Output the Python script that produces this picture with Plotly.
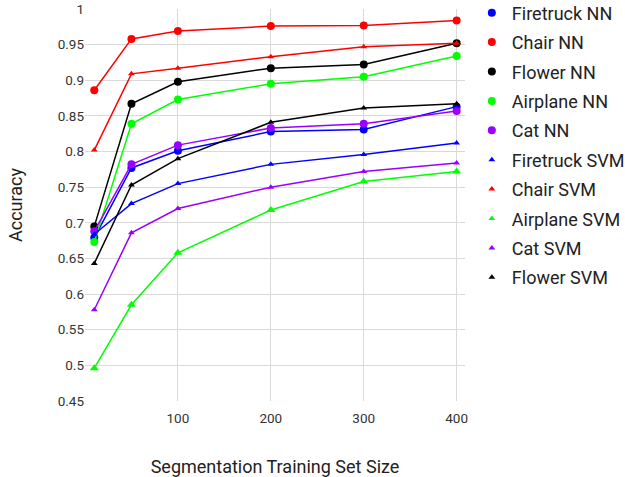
import plotly.graph_objects as go

x_sizes = [10, 50, 100, 200, 300, 400]

firetruck_nn = [0.679, 0.777, 0.801, 0.828, 0.831, 0.863]
chair_nn = [0.886, 0.958, 0.969, 0.976, 0.977, 0.984]
flower_nn = [0.695, 0.867, 0.898, 0.917, 0.922, 0.952]
airplane_nn = [0.673, 0.839, 0.873, 0.895, 0.905, 0.934]
cat_nn = [0.688, 0.782, 0.809, 0.833, 0.839, 0.857]
firetruck_svm = [0.684, 0.727, 0.755, 0.782, 0.796, 0.812]
chair_svm = [0.802, 0.909, 0.917, 0.933, 0.947, 0.952]
airplane_svm = [0.496, 0.585, 0.658, 0.718, 0.758, 0.772]
cat_svm = [0.578, 0.686, 0.720, 0.750, 0.772, 0.784]
flower_svm = [0.643, 0.753, 0.790, 0.841, 0.861, 0.867]

series = [
    ("Firetruck NN", firetruck_nn, "#0000ff", "circle", 8),
    ("Chair NN", chair_nn, "#ff0000", "circle", 8),
    ("Flower NN", flower_nn, "#000000", "circle", 8),
    ("Airplane NN", airplane_nn, "#00ff00", "circle", 8),
    ("Cat NN", cat_nn, "#9900ff", "circle", 8),
    ("Firetruck SVM", firetruck_svm, "#0000ff", "triangle-up", 6),
    ("Chair SVM", chair_svm, "#ff0000", "triangle-up", 6),
    ("Airplane SVM", airplane_svm, "#00ff00", "triangle-up", 8),
    ("Cat SVM", cat_svm, "#9900ff", "triangle-up", 6),
    ("Flower SVM", flower_svm, "#000000", "triangle-up", 6),
]

fig = go.Figure()
for i, (name, ys, color, sym, sz) in enumerate(series):
    fig.add_trace(go.Scatter(
        x=x_sizes, y=ys, mode="lines+markers", name=name,
        line=dict(color=color, width=1.5),
        marker=dict(color=color, symbol=sym, size=sz),
        showlegend=False, legendgroup="g%d" % i,
    ))
for i, (name, ys, color, sym, sz) in enumerate(series):
    fig.add_trace(go.Scatter(
        x=[None], y=[None], mode="markers", name=name,
        marker=dict(color=color, symbol=sym, size=8 if sym == "circle" else 6),
        showlegend=True, legendgroup="g%d" % i,
    ))

fig.update_layout(
    width=625, height=477,
    margin=dict(l=85, r=160, t=9, b=76, autoexpand=False),
    paper_bgcolor="white", plot_bgcolor="white",
    font=dict(family="Roboto", color="#333333", size=13.5),
    showlegend=True,
    legend=dict(x=1.018, y=1.037, xanchor="left", yanchor="top",
                font=dict(size=18, color="#222222"),
                tracegroupgap=3, itemwidth=30, maxheight=460,
                bgcolor="rgba(0,0,0,0)"),
    xaxis=dict(
        title=dict(text="Segmentation Training Set Size", font=dict(size=18, color="#222222"), standoff=38),
        range=[0, 409], tickvals=[100, 200, 300, 400], ticklabelstandoff=7,
        showgrid=True, gridcolor="#d9d9d9", gridwidth=1,
        zeroline=False, showline=False, ticks="", ticklen=0, automargin=False,
    ),
    yaxis=dict(
        title=dict(text="Accuracy", font=dict(size=18, color="#222222"), standoff=30),
        range=[0.45, 1.0],
        tickvals=[0.45, 0.5, 0.55, 0.6, 0.65, 0.7, 0.75, 0.8, 0.85, 0.9, 0.95, 1.0],
        ticktext=["0.45", "0.5", "0.55", "0.6", "0.65", "0.7", "0.75", "0.8", "0.85", "0.9", "0.95", "1"],
        showgrid=True, gridcolor="#d9d9d9", gridwidth=1,
        zeroline=False, showline=False, ticks="", ticklen=0, automargin=False,
    ),
)

fig.write_html("out.html", config={"displayModeBar": False},
               post_script="document.body.style.margin='0';")
